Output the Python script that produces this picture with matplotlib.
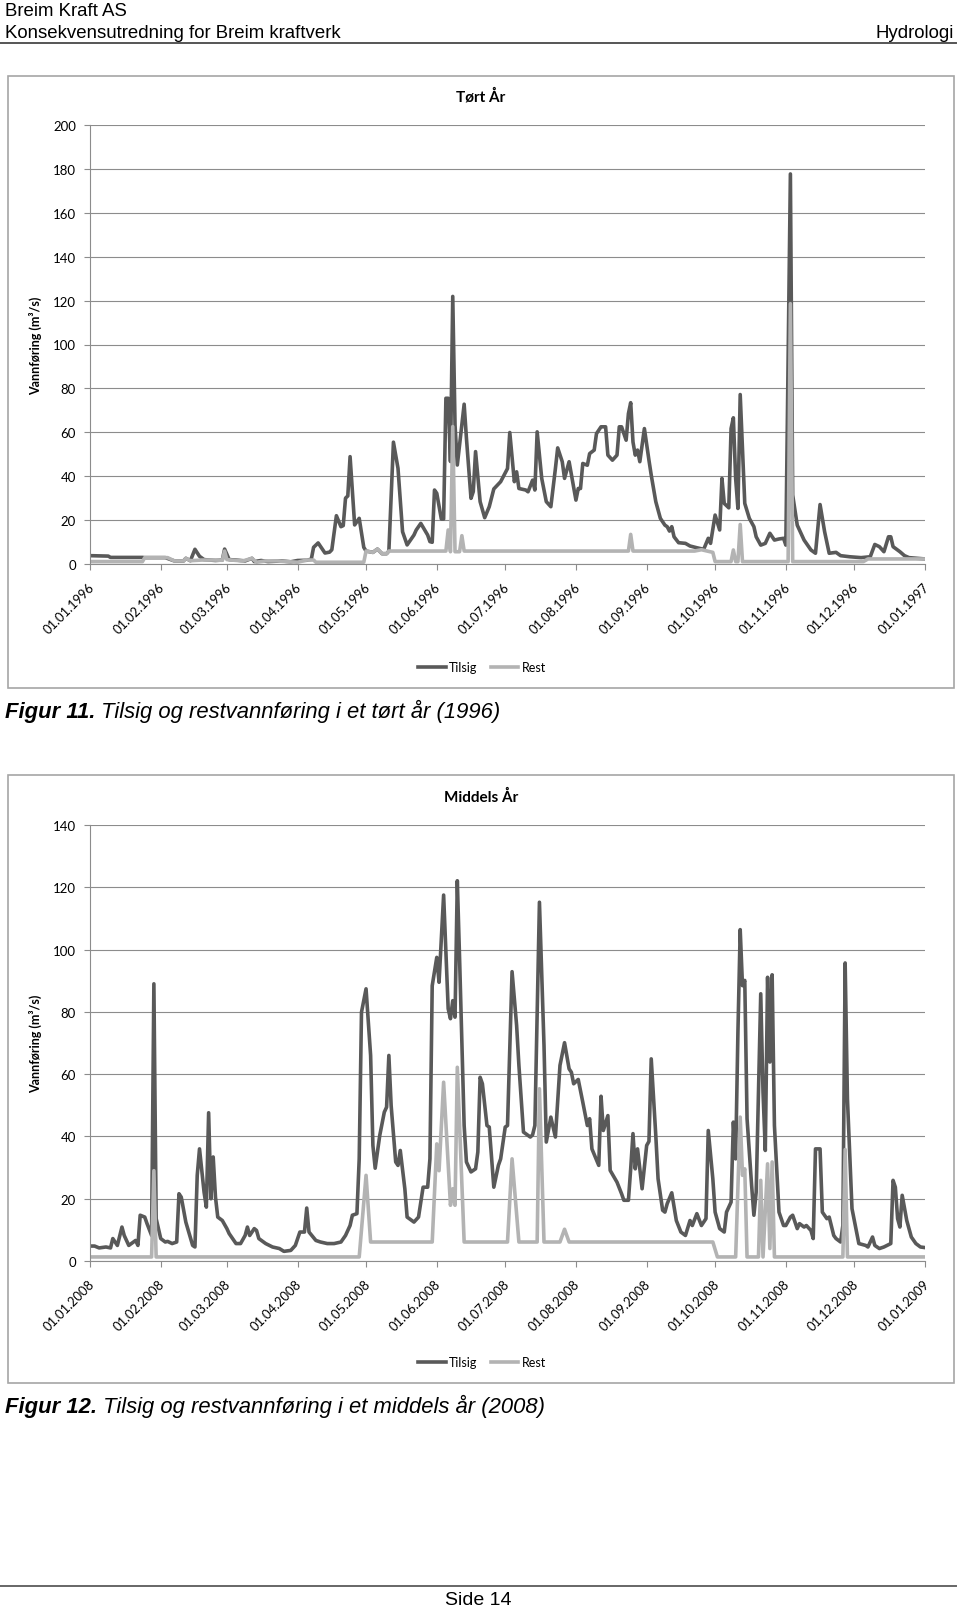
import numpy as np
import matplotlib
matplotlib.use("Agg")
import matplotlib.pyplot as plt
from matplotlib.lines import Line2D
from matplotlib.patches import Rectangle
from matplotlib.transforms import ScaledTranslation

W, H = 960, 1608

# ---- Tørt år (1996): day offset from 01.01.1996 -> m3/s
tilsig96_day = [0, 8, 9, 23, 24, 33, 37, 41, 42, 44, 46, 48, 50, 55, 58, 59, 61, 64, 68, 71,
                72, 75, 78, 84, 88, 91, 95, 97, 98, 100, 103, 105, 106, 108, 110, 111, 112, 113, 114, 116,
                118, 120, 121, 124, 126, 128, 130, 131, 133, 135, 137, 139, 142, 143, 145, 148, 149, 150, 151, 152,
                154, 155, 156, 157, 158, 159, 160, 161, 164, 165, 167, 168, 169, 171, 173, 175, 177, 180, 183, 184,
                186, 187, 188, 191, 192, 194, 195, 196, 198, 200, 202, 204, 205, 207, 208, 210, 213, 214, 215, 216,
                218, 219, 221, 222, 224, 226, 227, 229, 231, 232, 233, 235, 236, 237, 238, 239, 240, 241, 243, 245,
                246, 248, 250, 252, 253, 254, 255, 256, 258, 261, 263, 266, 269, 271, 272, 274, 276, 277, 278, 280,
                281, 282, 283, 284, 285, 287, 289, 291, 292, 294, 296, 298, 300, 302, 304, 305, 307, 308, 310, 313,
                316, 318, 320, 322, 324, 327, 329, 333, 338, 342, 344, 346, 348, 350, 351, 352, 355, 357, 359, 366]
tilsig96_val = [3.8, 3.6, 3.0, 3.0, 2.9, 2.9, 1.4, 1.4, 2.6, 1.5, 6.7, 3.5, 2.0, 1.6, 1.8, 6.8, 2.0, 1.8, 1.4, 2.6,
                1.1, 1.6, 1.1, 1.4, 1.0, 1.6, 1.7, 2.2, 7.6, 9.6, 5.0, 5.4, 6.5, 22.0, 17.0, 17.5, 30.0, 31.0, 48.9, 17.8,
                20.8, 7.6, 5.9, 5.3, 6.8, 4.7, 4.7, 5.9, 55.5, 43.6, 14.7, 8.7, 13.2, 15.5, 18.5, 13.2, 10.2, 9.9, 33.7, 32.2,
                20.5, 20.5, 75.5, 75.5, 46.7, 121.9, 63.4, 45.1, 72.8, 57.3, 29.9, 33.0, 51.2, 28.4, 21.1, 26.1, 34.2, 37.5, 43.5, 59.9,
                37.5, 42.0, 34.4, 33.7, 32.9, 38.2, 33.7, 60.2, 39.0, 28.4, 26.1, 43.5, 52.9, 46.6, 39.0, 46.6, 29.1, 34.4, 34.4, 45.8,
                45.0, 50.3, 51.9, 59.4, 62.5, 62.5, 49.6, 47.3, 49.6, 62.5, 62.5, 56.4, 68.5, 73.5, 55.6, 49.6, 51.9, 46.6, 61.7, 47.3,
                40.5, 28.4, 20.8, 17.7, 17.0, 15.0, 17.0, 12.4, 9.7, 9.4, 8.2, 7.4, 6.7, 11.7, 9.4, 22.3, 15.5, 39.0, 27.6, 25.6,
                61.7, 66.6, 39.0, 25.3, 77.2, 27.6, 20.8, 17.0, 12.4, 8.6, 9.4, 14.0, 10.9, 11.4, 11.7, 8.6, 177.7, 31.4, 17.7, 10.9,
                6.4, 4.9, 27.1, 14.7, 4.9, 5.3, 3.8, 3.3, 2.9, 3.3, 8.9, 7.9, 5.6, 12.4, 12.4, 7.9, 5.6, 3.8, 2.9, 2.3]
rest96_day = [0, 23, 24, 34, 37, 41, 42, 44, 49, 54, 58, 59, 60, 62, 67, 71, 73, 77, 82, 86,
              91, 95, 98, 99, 120, 121, 124, 126, 128, 130, 131, 156, 157, 158, 159, 160, 162, 163, 164, 236,
              237, 238, 265, 268, 273, 274, 281, 282, 283, 284, 285, 286, 306, 307, 308, 339, 341, 366]
rest96_val = [1.1, 1.1, 2.9, 2.9, 1.4, 1.4, 2.6, 1.5, 1.8, 1.8, 1.7, 5.9, 2.0, 1.8, 1.4, 2.6, 0.8, 1.4, 1.4, 1.1,
              0.8, 1.8, 1.8, 0.8, 0.8, 5.9, 5.3, 6.8, 4.7, 4.7, 5.9, 5.9, 15.5, 5.6, 62.6, 5.6, 5.6, 12.9, 5.9, 5.9,
              13.5, 5.9, 5.9, 6.5, 5.3, 1.1, 1.1, 6.4, 1.1, 1.1, 18.0, 1.1, 1.1, 118.6, 1.1, 1.1, 2.3, 2.3]

# ---- Middels år (2008): day offset from 01.01.2008 -> m3/s
tilsig08_day = [0, 2, 4, 7, 9, 10, 12, 14, 15, 17, 20, 21, 22, 24, 25, 27, 28, 29, 31, 33,
                34, 36, 38, 39, 40, 42, 45, 46, 47, 48, 50, 51, 52, 53, 54, 55, 56, 58, 60, 61,
                64, 66, 68, 69, 70, 72, 73, 74, 77, 80, 83, 85, 88, 90, 92, 94, 95, 96, 99, 101,
                104, 107, 110, 112, 114, 115, 117, 118, 119, 121, 123, 124, 125, 127, 129, 130, 131, 132, 134, 135,
                136, 138, 139, 142, 144, 146, 148, 149, 150, 152, 153, 155, 157, 158, 159, 160, 161, 162, 164, 165,
                167, 169, 170, 171, 172, 174, 175, 177, 179, 180, 182, 183, 185, 187, 188, 190, 193, 194, 195, 197,
                199, 200, 202, 204, 206, 208, 210, 211, 212, 214, 216, 218, 219, 220, 223, 224, 225, 227, 228, 231,
                233, 234, 236, 237, 238, 239, 240, 242, 244, 245, 246, 248, 249, 251, 252, 253, 255, 257, 259, 261,
                263, 264, 266, 268, 270, 271, 273, 274, 276, 278, 279, 281, 282, 283, 284, 285, 286, 287, 288, 290,
                291, 292, 294, 295, 296, 297, 298, 299, 300, 302, 304, 305, 307, 308, 310, 311, 313, 314, 316, 317,
                318, 320, 321, 323, 324, 326, 327, 329, 330, 331, 332, 334, 336, 337, 340, 341, 343, 344, 346, 348,
                351, 352, 353, 354, 355, 356, 358, 360, 362, 364, 366]
tilsig08_val = [4.8, 4.8, 4.2, 4.5, 4.2, 7.2, 5.0, 10.9, 8.2, 5.0, 6.6, 5.0, 14.7, 14.1, 12.0, 8.2, 89.0, 13.6, 7.2, 6.1,
                6.3, 5.6, 6.1, 21.6, 20.5, 12.5, 5.0, 4.5, 27.5, 36.0, 22.1, 17.3, 47.6, 20.0, 33.4, 20.5, 14.1, 13.0, 10.4, 8.8,
                5.6, 5.6, 8.2, 10.9, 8.2, 10.4, 9.8, 7.2, 5.6, 4.5, 4.0, 3.1, 3.4, 5.0, 9.3, 9.3, 17.0, 9.3, 6.6, 6.1,
                5.6, 5.6, 6.1, 8.2, 11.4, 14.7, 15.2, 32.8, 79.9, 87.4, 66.0, 37.1, 29.8, 40.3, 47.8, 49.4, 66.0, 49.9, 31.8, 30.7,
                35.5, 23.2, 14.1, 12.5, 14.1, 23.7, 23.7, 32.8, 88.4, 97.5, 89.5, 117.5, 81.0, 77.8, 83.6, 78.3, 122.1, 97.0, 43.5, 31.8,
                28.6, 29.6, 35.0, 59.0, 56.9, 43.5, 43.0, 23.7, 30.7, 32.8, 43.0, 43.5, 92.9, 75.6, 62.8, 41.4, 39.8, 40.5, 43.5, 115.2,
                69.2, 38.2, 46.2, 39.8, 62.8, 70.1, 61.7, 60.6, 56.9, 58.3, 51.0, 43.5, 45.7, 36.0, 30.7, 52.9, 41.9, 46.7, 29.1, 25.3,
                21.6, 19.5, 19.5, 29.6, 40.9, 29.6, 36.0, 23.2, 37.1, 38.4, 64.9, 40.3, 26.4, 16.3, 15.7, 18.4, 21.9, 13.0, 9.3, 8.2,
                13.0, 11.4, 15.2, 11.4, 13.6, 41.9, 26.4, 15.7, 10.4, 9.3, 15.7, 18.9, 44.6, 32.8, 73.5, 106.4, 88.4, 90.1, 45.7, 24.3,
                14.7, 22.1, 85.8, 54.2, 35.5, 91.1, 63.9, 91.9, 43.5, 15.7, 11.4, 11.4, 14.1, 14.7, 10.4, 12.0, 10.9, 11.4, 9.8, 7.2,
                36.0, 36.0, 15.7, 13.6, 14.1, 8.2, 7.2, 6.1, 11.4, 95.7, 52.1, 16.8, 9.3, 5.6, 5.0, 4.5, 7.7, 5.0, 4.0, 4.5,
                5.6, 25.9, 23.7, 13.6, 10.9, 21.1, 13.0, 7.7, 5.6, 4.5, 4.3]
rest08_day = [0, 27, 28, 29, 118, 121, 123, 150, 152, 153, 155, 158, 159, 160, 161, 164, 183, 185, 188, 196,
              197, 199, 206, 208, 210, 273, 275, 283, 285, 286, 287, 288, 293, 294, 295, 297, 298, 299, 300, 330,
              331, 332, 366]
rest08_val = [1.3, 1.3, 29.0, 1.3, 1.3, 27.5, 6.1, 6.1, 37.6, 29.0, 57.4, 17.9, 23.2, 17.9, 62.2, 6.1, 6.1, 32.8, 6.1, 6.1,
              55.3, 6.1, 6.1, 10.2, 6.1, 6.1, 1.3, 1.3, 46.2, 27.5, 29.6, 1.3, 1.3, 25.9, 1.3, 31.2, 4.0, 31.8, 1.3, 1.3,
              35.8, 1.3, 1.3]

TILSIG_C = "#595959"
REST_C = "#b3b3b3"
GRID_C = "#8c8c8c"
LW = 2.6
CHART_FONT = ["Lato", "DejaVu Sans"]
DOC_FONT = ["Liberation Sans", "DejaVu Sans"]


def px_axes(fig, left, top, right, bottom):
    return fig.add_axes([left / W, 1 - bottom / H, (right - left) / W, (bottom - top) / H])


def month_ticks(year):
    months = np.arange(f"{year}-01", f"{year + 1}-02", dtype="datetime64[M]")
    days = (months.astype("datetime64[D]") - np.datetime64(f"{year}-01-01")).astype(int)
    labels = [f"01.{str(m)[5:7]}.{str(m)[:4]}" for m in months]
    return days, labels


def draw_chart(fig, page, box, plot, title, title_y, ymax, tday, tval, rday, rval, year, legend_y):
    bx0, by0, bx1, by1 = box
    page.add_patch(Rectangle((bx0, by0), bx1 - bx0, by1 - by0, fill=False, ec="#a6a6a6", lw=1.2))
    page.text(481, title_y, title, ha="center", va="center",
              fontsize=11, fontweight="bold", family=CHART_FONT)
    page.text(36, (plot[1] + plot[3]) / 2, "Vannføring (m³/s)", rotation=90, ha="center", va="center",
              fontsize=9, fontweight="bold", family=CHART_FONT)

    ax = px_axes(fig, *plot)
    ax.plot(tday, tval, color=TILSIG_C, lw=LW, solid_joinstyle="round", label="Tilsig")
    ax.plot(rday, rval, color=REST_C, lw=LW, solid_joinstyle="round", label="Rest")

    ticks, labels = month_ticks(year)
    ax.set_xlim(0, ticks[-1])
    ax.set_ylim(0, ymax)
    ax.set_xticks(ticks)
    ax.set_xticklabels([])
    # rotated date labels, right end just right of the tick, like the Excel original
    lbl_tr = ax.get_xaxis_transform() + ScaledTranslation(2 / 100, -21 / 100, fig.dpi_scale_trans)
    for d, lab in zip(ticks, labels):
        ax.text(d, 0, lab, transform=lbl_tr, rotation=45, ha="right", va="center",
                rotation_mode="anchor", family=CHART_FONT, fontsize=9.3, clip_on=False)
    ax.set_yticks(np.arange(0, ymax + 1, 20))
    ax.set_yticklabels([str(v) for v in range(0, ymax + 1, 20)], family=CHART_FONT, fontsize=9.5)
    ax.tick_params(axis="both", direction="out", length=4, width=0.8, color=GRID_C)
    ax.tick_params(axis="y", pad=6)
    ax.grid(axis="y", color=GRID_C, lw=0.8)
    ax.set_axisbelow(True)
    for s in ["top", "right"]:
        ax.spines[s].set_visible(False)
    for s in ["left", "bottom"]:
        ax.spines[s].set_color(GRID_C)
        ax.spines[s].set_linewidth(0.8)

    handles = [Line2D([], [], color=TILSIG_C, lw=LW), Line2D([], [], color=REST_C, lw=LW)]
    fig.legend(handles, ["Tilsig", "Rest"], loc="center", bbox_to_anchor=(482 / W, 1 - legend_y / H),
               ncol=2, frameon=False, prop={"family": CHART_FONT, "size": 9},
               handlelength=2.2, handletextpad=0.25, columnspacing=1.1)
    return ax


fig = plt.figure(figsize=(W / 100, H / 100), dpi=100)
page = fig.add_axes([0, 0, 1, 1])
page.set_xlim(0, W)
page.set_ylim(H, 0)
page.axis("off")

# page header
page.text(5, 11, "Breim Kraft AS", ha="left", va="center", fontsize=13.4, family=DOC_FONT)
page.text(5, 33, "Konsekvensutredning for Breim kraftverk", ha="left", va="center", fontsize=13.4, family=DOC_FONT)
page.text(954, 33, "Hydrologi", ha="right", va="center", fontsize=13.4, family=DOC_FONT)
page.plot([0, 956], [44, 44], color="#555555", lw=1.4)

draw_chart(fig, page, (8, 77, 954, 689), (90, 126, 925, 565), "Tørt År", 97, 200,
           tilsig96_day, tilsig96_val, rest96_day, rest96_val, 1996, 668)
draw_chart(fig, page, (8, 776, 954, 1384), (90, 826, 925, 1262), "Middels År", 797, 140,
           tilsig08_day, tilsig08_val, rest08_day, rest08_val, 2008, 1363)

renderer = fig.canvas.get_renderer()


def caption(y, num, rest):
    t1 = page.text(5, y, f"Figur {num}.", ha="left", va="baseline", fontsize=15.8,
                   fontweight="bold", style="italic", family=DOC_FONT)
    bb = t1.get_window_extent(renderer)
    x_end = page.transData.inverted().transform((bb.x1, bb.y0))[0]
    page.text(x_end, y, rest, ha="left", va="baseline", fontsize=15.8,
              style="italic", family=DOC_FONT)


caption(718, 11, " Tilsig og restvannføring i et tørt år (1996)")
caption(1413, 12, " Tilsig og restvannføring i et middels år (2008)")

# page footer
page.plot([0, 956], [1587, 1587], color="#666666", lw=1.4)
page.text(478, 1601, "Side 14", ha="center", va="center", fontsize=14, family=DOC_FONT)

fig.savefig("out.png", dpi=100)
